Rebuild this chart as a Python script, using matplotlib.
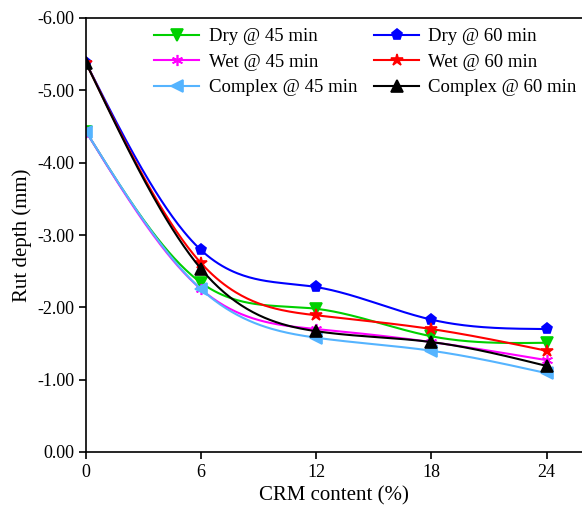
import numpy as np
import matplotlib
matplotlib.use("Agg")
import matplotlib.pyplot as plt
from matplotlib.ticker import FuncFormatter

crm = [0, 6, 12, 18, 24]
dry45 = [-4.43, -2.34, -1.98, -1.60, -1.51]
dry60 = [-5.38, -2.79, -2.28, -1.83, -1.70]
wet45 = [-4.43, -2.25, -1.70, -1.52, -1.27]
wet60 = [-5.38, -2.61, -1.89, -1.70, -1.40]
cpx45 = [-4.43, -2.25, -1.58, -1.40, -1.09]
cpx60 = [-5.38, -2.53, -1.67, -1.52, -1.19]

labels = ["Dry @ 45 min", "Wet @ 45 min", "Complex @ 45 min",
          "Dry @ 60 min", "Wet @ 60 min", "Complex @ 60 min"]
series = [dry45, wet45, cpx45, dry60, wet60, cpx60]
colors = ["#00d000", "#ff00ff", "#55b4ff", "#0000ff", "#ff0000", "#000000"]
markers = ["v", (6, 2, 0), "<", "p", "*", "^"]


def natural_spline(x, y, xs):
    x = np.asarray(x, float); y = np.asarray(y, float)
    n = len(x)
    h = np.diff(x)
    A = np.zeros((n, n)); b = np.zeros(n)
    A[0, 0] = 1; A[-1, -1] = 1
    for i in range(1, n - 1):
        A[i, i - 1] = h[i - 1]
        A[i, i] = 2 * (h[i - 1] + h[i])
        A[i, i + 1] = h[i]
        b[i] = 3 * ((y[i + 1] - y[i]) / h[i] - (y[i] - y[i - 1]) / h[i - 1])
    c = np.linalg.solve(A, b)
    out = np.empty_like(xs)
    for k, xv in enumerate(xs):
        i = min(np.searchsorted(x, xv, side="right") - 1, n - 2)
        i = max(i, 0)
        dx = xv - x[i]
        bb = (y[i + 1] - y[i]) / h[i] - h[i] * (2 * c[i] + c[i + 1]) / 3
        d = (c[i + 1] - c[i]) / (3 * h[i])
        out[k] = y[i] + bb * dx + c[i] * dx ** 2 + d * dx ** 3
    return out


plt.rcParams["font.family"] = ["Liberation Serif", "DejaVu Serif"]
fig = plt.figure(figsize=(5.82, 5.15), dpi=100)
ax = fig.add_axes([86 / 582, 63 / 515, 1 - 86 / 582, (452 - 18) / 515])

xs = np.linspace(0, 24, 241)
for ys, lab, col, mk in zip(series, labels, colors, markers):
    sm = natural_spline(crm, ys, xs)
    ms = 9 if mk == "*" else 8
    ax.plot(xs, sm, color=col, lw=1.5, marker=mk, markevery=60,
            markersize=ms, markeredgecolor=col, markerfacecolor=col,
            markeredgewidth=1.2, label=lab)

ax.set_xlim(0, 25.85)
ax.set_ylim(0, -6)
ax.set_xticks(crm)
ax.set_yticks([0, -1, -2, -3, -4, -5, -6])
ax.yaxis.set_major_formatter(FuncFormatter(lambda v, p: "0.00" if abs(v) < 1e-9 else f"{v:.2f}"))
ax.spines["right"].set_visible(False)
for s in ["left", "bottom", "top"]:
    ax.spines[s].set_linewidth(1.2)
ax.tick_params(axis="both", direction="out", length=5, width=1.2, labelsize=13,
               top=False, right=False)
ax.set_xlabel("CRM content (%)", fontsize=15)
ax.set_ylabel("Rut depth (mm)", fontsize=15)

ax.legend(ncol=2, loc="upper left", bbox_to_anchor=(0.115, 1.003), frameon=False,
          fontsize=13.5, handlelength=2.4, columnspacing=0.9, labelspacing=0.45,
          handletextpad=0.5, borderaxespad=0.2)

fig.savefig("out.png", dpi=100)
